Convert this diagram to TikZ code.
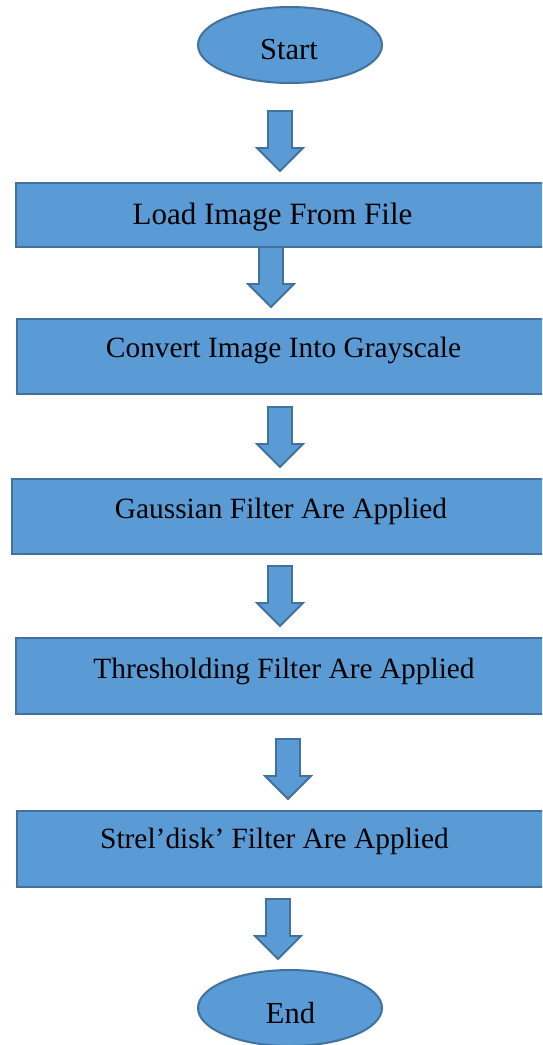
\documentclass[tikz,border=0pt]{standalone}
\usepackage{fontspec}
\setmainfont{Liberation Serif}
\usetikzlibrary{shapes.geometric}
\definecolor{boxfill}{HTML}{5B9BD5}
\definecolor{boxline}{HTML}{41719C}
\tikzset{
  procbox/.style={rectangle, draw=boxline, fill=boxfill, line width=2pt,
    anchor=north west, minimum height=#1, inner sep=0pt},
  termnode/.style={ellipse, draw=boxline, fill=boxfill, line width=2pt,
    minimum width=184pt, minimum height=76pt, inner sep=0pt},
  lbl/.style={anchor=base, inner sep=0pt, text=black},
  bigtxt/.style={font=\fontsize{30.5}{36}\selectfont},
  smalltxt/.style={font=\fontsize{29.4}{35}\selectfont},
  blockarrow/.style={draw=boxline, fill=boxfill, line width=1.8pt, line join=miter},
  downarrow/.pic={
    \draw[blockarrow] (-12,0) -- (12,0) -- (12,37) -- (23,37) -- (0,60)
      -- (-23,37) -- (-12,37) -- cycle;
  }
}
\begin{document}
\begin{tikzpicture}[x=1pt, y=-1pt]
  \useasboundingbox (0,0) rectangle (542,1045);
  \clip (0,0) rectangle (542,1045);

  % terminals
  \node[termnode] (start) at (290,45) {};
  \node[lbl, bigtxt] (starttxt) at (289,59) {Start};

  % process steps (boxes run past the right edge)
  \node[procbox=64pt, minimum width=545pt] (s1) at (15,182) {};
  \node[lbl, font=\fontsize{31}{37}\selectfont] (s1txt) at (272.5,224) {Load Image From File};

  \node[procbox=75pt, minimum width=544pt] (s2) at (16,318) {};
  \node[lbl, smalltxt] (s2txt) at (283.5,357) {Convert Image Into Grayscale};

  \node[procbox=75pt, minimum width=549pt] (s3) at (11,478) {};
  \node[lbl, smalltxt] (s3txt) at (281,518) {Gaussian Filter Are Applied};

  \node[procbox=76pt, minimum width=545pt] (s4) at (15,637) {};
  \node[lbl, smalltxt] (s4txt) at (284,678) {Thresholding Filter Are Applied};

  \node[procbox=76pt, minimum width=544pt] (s5) at (16,810) {};
  \node[lbl, smalltxt] (s5txt) at (274.5,848) {Strel’disk’ Filter Are Applied};

  \node[termnode] (end) at (290,1008) {};
  \node[lbl, bigtxt] (endtxt) at (290.5,1023) {End};

  % block arrows between the steps
  \pic (a1) at (280,111) {downarrow};
  \pic (a2) at (271,247) {downarrow};
  \pic (a3) at (280,407) {downarrow};
  \pic (a4) at (280,566) {downarrow};
  \pic (a5) at (288,739) {downarrow};
  \pic (a6) at (278,899) {downarrow};
\end{tikzpicture}
\end{document}
